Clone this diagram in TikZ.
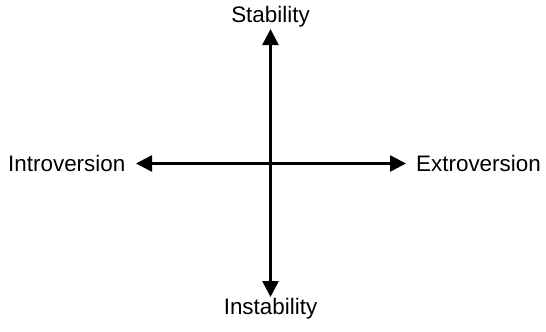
\documentclass[tikz,border=0pt]{standalone}
\usepackage{fontspec}
\setmainfont{Liberation Sans}
\usetikzlibrary{arrows.meta}

\begin{document}
\begin{tikzpicture}[
x=1bp,y=1bp,
lbl/.style={font=\fontsize{22.5}{26}\selectfont,inner sep=0pt,anchor=base},
arrow/.style={{Triangle[length=16bp,width=16bp]}-{Triangle[length=16bp,width=16bp]},line width=2.6bp}
]
\useasboundingbox (0,0) rectangle (546,331);
\coordinate (top) at (270.5,302);
\coordinate (bot) at (270.5,34);
\coordinate (left) at (136,167.5);
\coordinate (right) at (406,167.5);
\node[lbl] (stab) at (270.5,309) {Stability};
\node[lbl] (instab) at (270.5,17) {Instability};
\node[lbl,anchor=base west] (intro) at (8,160) {Introversion};
\node[lbl,anchor=base west] (extro) at (416,160) {Extroversion};
\draw[arrow] (bot)--(top);
\draw[arrow] (left)--(right);
\end{tikzpicture}
\end{document}
